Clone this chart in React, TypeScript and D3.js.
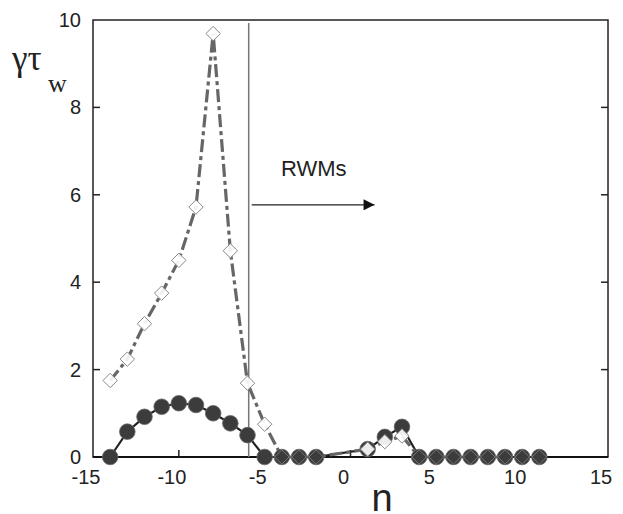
import React, { useEffect, useRef } from 'react';
import * as d3 from 'd3';

const WIDTH = 623;
const HEIGHT = 514;
const MARGIN = { top: 20, right: 15, bottom: 57, left: 93 };

// growth rate of the circle series (filled)
const circleN = [-14, -13, -12, -11, -10, -9, -8, -7, -6, -5, -4, -3, -2, 1, 2, 3, 4, 5, 6, 7, 8, 9, 10, 11];
const circleV = [0, 0.58, 0.92, 1.15, 1.23, 1.19, 1.0, 0.77, 0.5, 0, 0, 0, 0, 0.18, 0.46, 0.69, 0, 0, 0, 0, 0, 0, 0, 0];

// growth rate of the diamond series (open)
const diamondN = [-14, -13, -12, -11, -10, -9, -8, -7, -6, -5, -4, -3, -2, 1, 2, 3, 4, 5, 6, 7, 8, 9, 10, 11];
const diamondV = [1.75, 2.24, 3.05, 3.75, 4.5, 5.72, 9.69, 4.72, 1.69, 0.75, 0, 0, 0, 0.18, 0.35, 0.48, 0, 0, 0, 0, 0, 0, 0, 0];

const xTicks = [-15, -10, -5, 0, 5, 10, 15];
const yTicks = [0, 2, 4, 6, 8, 10];
const rwmBoundary = -5.93;

export default function App() {
  const ref = useRef<SVGSVGElement>(null);

  useEffect(() => {
    const svg = d3.select(ref.current);
    svg.selectAll('*').remove();

    const x = d3.scaleLinear().domain([-15, 15]).range([MARGIN.left, WIDTH - MARGIN.right]);
    const y = d3.scaleLinear().domain([0, 10]).range([HEIGHT - MARGIN.bottom, MARGIN.top]);
    const sans = 'Liberation Sans, Arial, sans-serif';
    const serif = 'Liberation Serif, Times New Roman, serif';

    svg.append('defs').append('marker')
      .attr('id', 'arrow')
      .attr('viewBox', '0 0 10 10')
      .attr('refX', 10).attr('refY', 5)
      .attr('markerWidth', 16).attr('markerHeight', 11)
      .attr('markerUnits', 'userSpaceOnUse')
      .attr('orient', 'auto')
      .append('path')
      .attr('d', 'M0,0 L10,5 L0,10 Z')
      .attr('fill', '#111');

    // frame
    svg.append('rect')
      .attr('x', x(-15)).attr('y', y(10))
      .attr('width', x(15) - x(-15)).attr('height', y(0) - y(10))
      .attr('fill', 'none').attr('stroke', '#222').attr('stroke-width', 1.5);
    svg.append('line')
      .attr('x1', x(-15)).attr('x2', x(15)).attr('y1', y(0)).attr('y2', y(0))
      .attr('stroke', '#111').attr('stroke-width', 2);

    // ticks
    const tickLen = 7;
    svg.append('g').selectAll('line').data(xTicks.slice(1, -1)).join('line')
      .attr('x1', d => x(d)).attr('x2', d => x(d))
      .attr('y1', y(0)).attr('y2', y(0) - tickLen)
      .attr('stroke', '#222').attr('stroke-width', 1.5);
    svg.append('g').selectAll('line').data(yTicks.slice(1, -1)).join('line')
      .attr('x1', x(-15)).attr('x2', x(-15) + tickLen)
      .attr('y1', d => y(d)).attr('y2', d => y(d))
      .attr('stroke', '#222').attr('stroke-width', 1.5);
    svg.append('g').selectAll('line').data(yTicks.slice(1, -1)).join('line')
      .attr('x1', x(15)).attr('x2', x(15) - tickLen)
      .attr('y1', d => y(d)).attr('y2', d => y(d))
      .attr('stroke', '#222').attr('stroke-width', 1.5);

    // tick labels sit a little left of their ticks in the original
    svg.append('g').selectAll('text').data(xTicks).join('text')
      .attr('x', d => x(d) - 7).attr('y', y(0) + 27)
      .attr('text-anchor', 'middle')
      .attr('font-family', sans).attr('font-size', 20).attr('fill', '#222')
      .text(d => d);
    svg.append('g').selectAll('text').data(yTicks).join('text')
      .attr('x', x(-15) - 12).attr('y', d => y(d) + 7)
      .attr('text-anchor', 'end')
      .attr('font-family', sans).attr('font-size', 20).attr('fill', '#222')
      .text(d => d);

    // axis labels
    svg.append('text')
      .attr('x', 12).attr('y', 70)
      .attr('font-family', serif).attr('font-size', 35).attr('fill', '#222')
      .text('γτ');
    svg.append('text')
      .attr('x', 48).attr('y', 92)
      .attr('font-family', serif).attr('font-size', 26).attr('fill', '#222')
      .text('w');

    svg.append('text')
      .attr('x', 382).attr('y', 511)
      .attr('text-anchor', 'middle')
      .attr('font-family', sans).attr('font-size', 38).attr('fill', '#222')
      .text('n');

    // RWM boundary and arrow
    svg.append('line')
      .attr('x1', x(rwmBoundary)).attr('x2', x(rwmBoundary))
      .attr('y1', y(9.93)).attr('y2', y(0))
      .attr('stroke', '#777').attr('stroke-width', 1.5);
    svg.append('line')
      .attr('x1', x(rwmBoundary) + 3).attr('x2', x(1.4))
      .attr('y1', y(5.77)).attr('y2', y(5.77))
      .attr('stroke', '#222').attr('stroke-width', 1.2)
      .attr('marker-end', 'url(#arrow)');
    svg.append('text')
      .attr('x', 281).attr('y', 176)
      .attr('font-family', sans).attr('font-size', 22).attr('fill', '#222')
      .text('RWMs');

    const circles = circleN.map((n, i) => ({ n, v: circleV[i] }));
    const diamonds = diamondN.map((n, i) => ({ n, v: diamondV[i] }));
    const line = d3.line<{ n: number; v: number }>().x(d => x(d.n)).y(d => y(d.v));

    svg.append('path').datum(circles)
      .attr('d', line).attr('fill', 'none')
      .attr('stroke', '#222').attr('stroke-width', 2.2);

    svg.append('path').datum(diamonds)
      .attr('d', line).attr('fill', 'none')
      .attr('stroke', '#666').attr('stroke-width', 3.2)
      .attr('stroke-dasharray', '13,4,4,4');

    svg.append('g').selectAll('circle').data(circles).join('circle')
      .attr('cx', d => x(d.n)).attr('cy', d => y(d.v)).attr('r', 7.8)
      .attr('fill', '#3c3c3c').attr('stroke', '#666').attr('stroke-width', 0.8);

    const ds = 7.2;
    const diamondPath = (d: { n: number; v: number }) => {
      const cx = x(d.n), cy = y(d.v);
      return `M${cx},${cy - ds} L${cx + ds},${cy} L${cx},${cy + ds} L${cx - ds},${cy} Z`;
    };
    svg.append('g').selectAll('path').data(diamonds.filter(d => d.v > 0)).join('path')
      .attr('d', diamondPath)
      .attr('fill', 'white').attr('fill-opacity', 0.9)
      .attr('stroke', '#888').attr('stroke-width', 1);
    svg.append('g').selectAll('path').data(diamonds.filter(d => d.v === 0)).join('path')
      .attr('d', diamondPath)
      .attr('fill', '#3c3c3c')
      .attr('stroke', '#777').attr('stroke-width', 1);
  }, []);

  return <svg ref={ref} width={WIDTH} height={HEIGHT} style={{ position: 'absolute', left: 0, top: 0 }} />;
}
